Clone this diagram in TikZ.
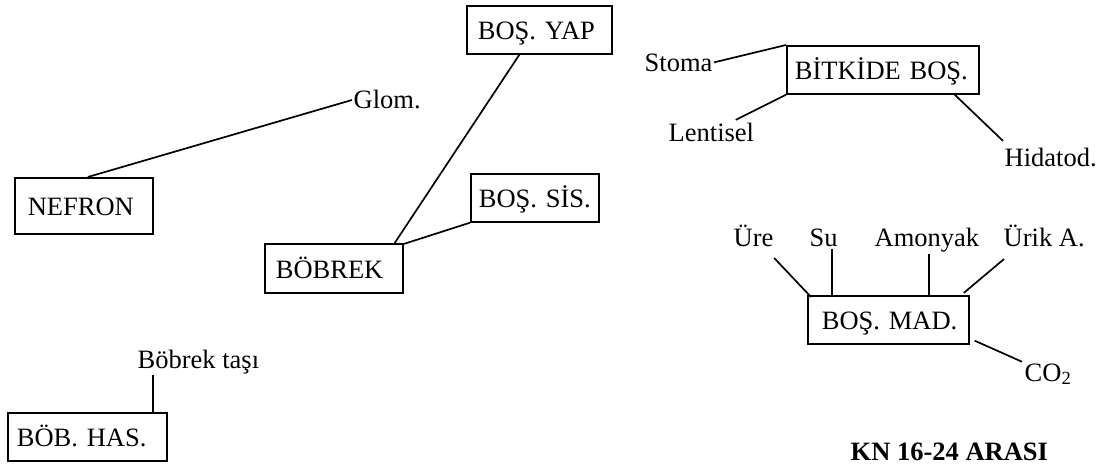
\documentclass[tikz,border=0pt]{standalone}
\usepackage{fontspec}
\setmainfont{Liberation Serif}
\begin{document}
\begin{tikzpicture}[x=1pt,y=-1pt,
  every node/.style={font=\fontsize{26.5}{31}\selectfont},
  ln/.style={line width=1.7pt},
  box/.style={draw, line width=1.7pt, anchor=north west, align=left,
    text height=20pt, text depth=0pt, inner ysep=0pt},
  lbl/.style={inner sep=1.5pt, anchor=base west}]
\useasboundingbox (0,0) rectangle (1115,470);

% kidney group
\node[box, minimum width=138, minimum height=56, inner xsep=13, text width=112] (nefron) at (14,177) {NEFRON};
\node[lbl] (glom) at (352,109) {Glom.};
\draw[ln] ([xshift=4]nefron.north) -- (glom.west);

\node[box, minimum width=145, minimum height=48, inner xsep=11, text width=123] (yap) at (466,5) {BOŞ. YAP};
\node[box, minimum width=128, minimum height=48, inner xsep=8, text width=112] (sis) at (470,173) {BOŞ. SİS.};
\node[box, minimum width=138, minimum height=49, inner xsep=11, text width=116] (bobrek) at (264,243) {BÖBREK};
\draw[ln] ([xshift=-20]yap.south) -- ([xshift=-9]bobrek.north east);
\draw[ln] (sis.south west) -- ([yshift=-1]bobrek.north east);

\node[box, minimum width=159, minimum height=48, inner xsep=9, text width=141] (has) at (7,412) {BÖB. HAS.};
\node[lbl] (tasi) at (136,368) {Böbrek taşı};
\draw[ln] ([xshift=-15]has.north east) -- ([xshift=-15]has.north east |- tasi.south);

% plant group
\node[box, minimum width=192, minimum height=48, inner xsep=8, text width=176] (bitki) at (786,45) {BİTKİDE BOŞ.};
\node[lbl] (stoma) at (643,72) {Stoma};
\node[lbl] (lentisel) at (667,142) {Lentisel};
\node[lbl] (hidatod) at (1003,167) {Hidatod.};
\draw[ln] ([yshift=1]stoma.east) -- (bitki.north west);
\draw[ln] ([xshift=-20,yshift=2]lentisel.north east) -- (bitki.south west);
\draw[ln] ([xshift=-25]bitki.south east) -- ([yshift=6]hidatod.north west);

% waste substances
\node[box, minimum width=161, minimum height=48, inner xsep=14, text width=133] (mad) at (807,295) {\mbox{BOŞ. MAD.}};
\node[lbl] (ure) at (732,247) {Üre};
\node[lbl] (su) at (808,247) {Su};
\node[lbl] (amonyak) at (873,247) {Amonyak};
\node[lbl] (urik) at (1002,247) {Ürik A.};
\node[lbl] (co2) at (1023,381) {CO\textsubscript{2}};
\draw[ln] ([xshift=-1,yshift=-9]ure.south east) -- ([xshift=4,yshift=-2]mad.north west);
\draw[ln] ([xshift=8]su.south) -- ([xshift=8]su.south |- mad.north);
\draw[ln] ([xshift=2]amonyak.south) -- ([xshift=2]amonyak.south |- mad.north);
\draw[ln] ([xshift=2,yshift=-10]urik.south west) -- ([xshift=-6,yshift=2]mad.north east);
\draw[ln] ([xshift=5,yshift=4]mad.south east) -- ([xshift=-1]co2.north west);

\node[lbl, font=\fontsize{26.5}{31}\selectfont\bfseries] (kn) at (849,460) {KN 16-24 ARASI};
\end{tikzpicture}
\end{document}
